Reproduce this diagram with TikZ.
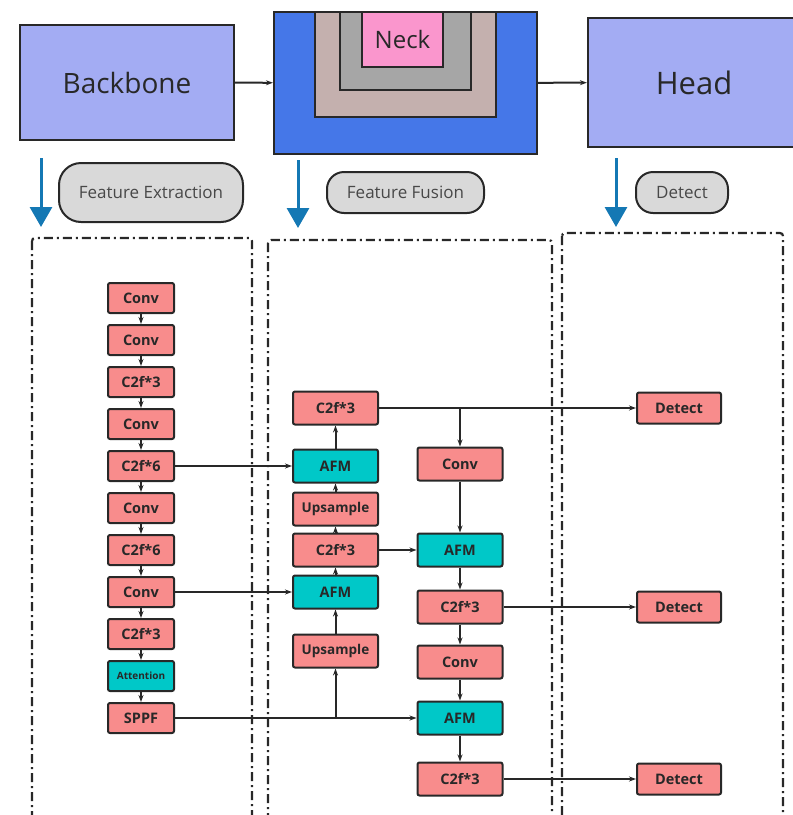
\documentclass[tikz,border=0pt]{standalone}
\usepackage{fontspec}
\setmainfont{Open Sans}
\usetikzlibrary{arrows.meta}
\definecolor{bbblue}{RGB}{163,172,243}
\definecolor{neckblue}{RGB}{69,119,232}
\definecolor{necktan}{RGB}{196,176,174}
\definecolor{neckgray}{RGB}{166,166,166}
\definecolor{neckpink}{RGB}{250,150,205}
\definecolor{pillgray}{RGB}{217,217,217}
\definecolor{arrblue}{RGB}{20,120,180}
\definecolor{blkred}{RGB}{248,140,140}
\definecolor{blkteal}{RGB}{0,200,200}
\definecolor{edge}{RGB}{40,40,40}

\begin{document}
\begin{tikzpicture}[
  x=1pt, y=-1pt,
  stage/.style={rectangle, draw=edge, line width=2.2pt, fill=bbblue, text=edge, inner sep=0pt},
  pill/.style={rectangle, rounded corners=17pt, draw=edge, line width=2pt, fill=pillgray, text=edge!85, font=\fontsize{17}{20}\selectfont, inner sep=0pt},
  blk/.style={rectangle, rounded corners=2pt, draw=edge, line width=2pt, fill=blkred, text=edge, minimum width=66pt, minimum height=30pt, inner sep=0pt, font=\bfseries\fontsize{14.5}{16}\selectfont},
  wide/.style={blk, minimum width=85pt, minimum height=33pt},
  afm/.style={wide, fill=blkteal},
  zone/.style={draw=edge, line width=2.2pt, rounded corners=3pt, dash pattern=on 9pt off 4pt on 2pt off 4pt},
  link/.style={-{Stealth[length=7pt,width=5pt]}, line width=2pt, draw=edge},
  down/.style={-{Triangle[length=20pt,width=22pt]}, line width=3pt, draw=arrblue}
]
\useasboundingbox (0,0) rectangle (793,815);
\clip (0,0) rectangle (793,815);

% Stages on top
\node[stage, minimum width=214pt, minimum height=115pt, font=\fontsize{28}{32}\selectfont] (bb) at (127,82.5) {Backbone};
\node[stage, fill=neckblue, minimum width=263pt, minimum height=142pt] (nk) at (405.5,83) {};
\draw[draw=edge, line width=2pt, fill=necktan] (315,12) rectangle (496,117);
\draw[draw=edge, line width=2pt, fill=neckgray] (340,12) rectangle (471,90);
\node[rectangle, draw=edge, line width=2pt, fill=neckpink, text=edge, minimum width=81pt, minimum height=55pt, inner sep=0pt, font=\fontsize{24}{28}\selectfont] (neck) at (402.5,39.5) {Neck};
\node[stage, minimum width=212pt, minimum height=129pt, font=\fontsize{31}{36}\selectfont] (head) at (694,82.5) {Head};
\draw[link] (bb) -- (nk);
\draw[link] (nk) -- (head);

% Stage labels
\coordinate (s1) at (41,158);  \coordinate (e1) at (41,227);
\coordinate (s2) at (298,160); \coordinate (e2) at (298,228);
\coordinate (s3) at (616,158); \coordinate (e3) at (616,227);
\draw[down] (s1) -- (e1);
\draw[down] (s2) -- (e2);
\draw[down] (s3) -- (e3);
\node[pill, rounded corners=22pt, minimum width=184pt, minimum height=59pt] (fe) at (151,192.5) {Feature Extraction};
\node[pill, minimum width=157pt, minimum height=41pt] (ff) at (405.5,192.5) {Feature Fusion};
\node[pill, minimum width=92pt, minimum height=41pt] (dt) at (682,192.5) {Detect};

% Dash-dot zones
\draw[zone] (32,238) rectangle (252,830);
\draw[zone] (268,240) rectangle (552,830);
\draw[zone] (562,233) rectangle (783,830);

% Backbone column
\node[blk] (l1) at (141,298) {Conv};
\node[blk] (l2) at (141,340) {Conv};
\node[blk] (l3) at (141,382) {C2f*3};
\node[blk] (l4) at (141,424) {Conv};
\node[blk] (l5) at (141,466) {C2f*6};
\node[blk] (l6) at (141,508) {Conv};
\node[blk] (l7) at (141,550) {C2f*6};
\node[blk] (l8) at (141,592) {Conv};
\node[blk] (l9) at (141,634) {C2f*3};
\node[blk, fill=blkteal, font=\bfseries\fontsize{10}{12}\selectfont] (l10) at (141,676) {Attention};
\node[blk] (l11) at (141,718) {SPPF};

% Neck, upward path
\node[wide] (a1) at (335.5,408) {C2f*3};
\node[afm] (a2) at (335.5,466) {AFM};
\node[wide, font=\bfseries\fontsize{13.5}{16}\selectfont] (a3) at (335.5,509) {Upsample};
\node[wide] (a4) at (335.5,550) {C2f*3};
\node[afm] (a5) at (335.5,592) {AFM};
\node[wide, font=\bfseries\fontsize{13.5}{16}\selectfont] (a6) at (335.5,651) {Upsample};

% Neck, downward path
\node[wide] (c1) at (460,464) {Conv};
\node[afm] (c2) at (460,550) {AFM};
\node[wide] (c3) at (460,607) {C2f*3};
\node[wide] (c4) at (460,662) {Conv};
\node[afm] (c5) at (460,718) {AFM};
\node[wide] (c6) at (460,779) {C2f*3};

% Heads
\node[wide, minimum width=84pt, minimum height=31pt] (d1) at (679,408) {Detect};
\node[wide, minimum width=84pt, minimum height=31pt] (d2) at (679,607) {Detect};
\node[wide, minimum width=84pt, minimum height=31pt] (d3) at (679,779) {Detect};

% Backbone links
\draw[link] (l1) -- (l2);
\draw[link] (l2) -- (l3);
\draw[link] (l3) -- (l4);
\draw[link] (l4) -- (l5);
\draw[link] (l5) -- (l6);
\draw[link] (l6) -- (l7);
\draw[link] (l7) -- (l8);
\draw[link] (l8) -- (l9);
\draw[link] (l9) -- (l10);
\draw[link] (l10) -- (l11);

% Lateral links
\draw[link] (l5) -- (a2);
\draw[link] (l8) -- (a5);
\draw[link] (l11) -- (c5);
\coordinate (j1) at (a6 |- l11);
\draw[link] (j1) -- (a6);

% Upward path
\draw[link] (a6) -- (a5);
\draw[link] (a5) -- (a4);
\draw[link] (a4) -- (a3);
\draw[link] (a3) -- (a2);
\draw[link] (a2) -- (a1);

% Downward path and outputs
\draw[link] (a1) -- (d1);
\coordinate (j2) at (c1 |- a1);
\draw[link] (j2) -- (c1);
\draw[link] (c1) -- (c2);
\draw[link] (a4) -- (c2);
\draw[link] (c2) -- (c3);
\draw[link] (c3) -- (d2);
\draw[link] (c3) -- (c4);
\draw[link] (c4) -- (c5);
\draw[link] (c5) -- (c6);
\draw[link] (c6) -- (d3);

\end{tikzpicture}
\end{document}
